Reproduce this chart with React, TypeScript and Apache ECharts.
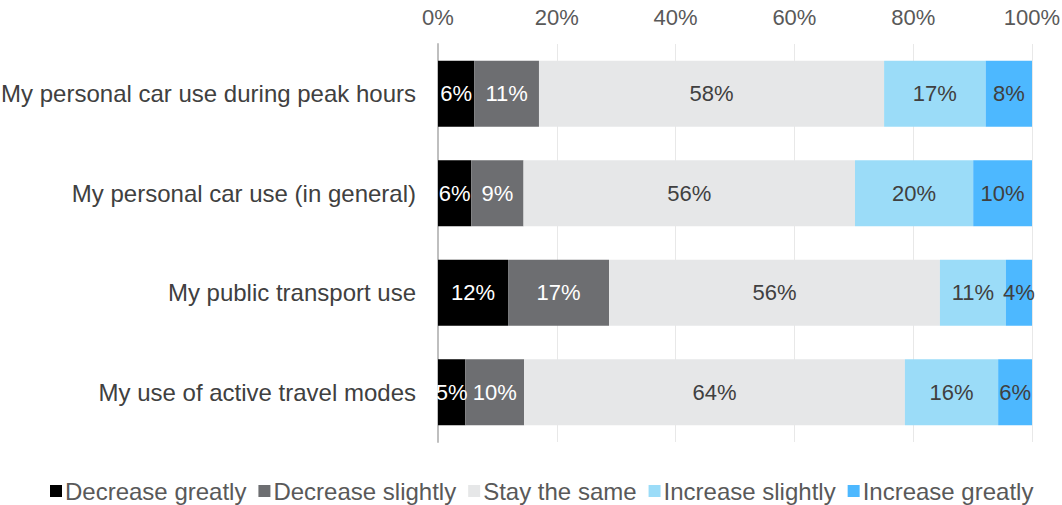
import React, { useEffect, useRef } from "react";
import * as echarts from "echarts";

const categories = [
  "My personal car use during peak hours",
  "My personal car use (in general)",
  "My public transport use",
  "My use of active travel modes",
];
const seriesNames = [
  "Decrease greatly",
  "Decrease slightly",
  "Stay the same",
  "Increase slightly",
  "Increase greatly",
];
const decreaseGreatly = [6.1, 5.6, 11.8, 4.6];
const decreaseSlightly = [10.9, 8.8, 17.0, 9.9];
const stayTheSame = [58.1, 55.8, 55.7, 64.1];
const increaseSlightly = [17.1, 19.9, 11.1, 15.7];
const increaseGreatly = [7.8, 9.9, 4.4, 5.7];
const xTicks = [0, 20, 40, 60, 80, 100];

const colors = ["#000000", "#6d6e71", "#e6e7e8", "#9bdcf8", "#4db8ff"];
const labelColors = ["#ffffff", "#ffffff", "#404040", "#404040", "#404040"];

export default function App() {
  const ref = useRef<HTMLDivElement>(null);
  useEffect(() => {
    if (!ref.current) return;
    const chart = echarts.init(ref.current, null, { renderer: "svg" });
    const data = [decreaseGreatly, decreaseSlightly, stayTheSame, increaseSlightly, increaseGreatly];
    const font = "'Liberation Sans', Arial, sans-serif";
    chart.setOption({
      animation: false,
      textStyle: { fontFamily: font },
      grid: { left: 438, right: 30, top: 44, height: 398, outerBoundsMode: "none" },
      legend: {
        top: 474,
        left: 45,
        icon: "rect",
        itemWidth: 12,
        itemHeight: 12,
        itemGap: 12,
        textStyle: { fontSize: 24, color: "#595959", fontFamily: font, padding: [0, 0, 0, -2] },
        data: seriesNames,
      },
      xAxis: {
        type: "value",
        position: "top",
        min: xTicks[0],
        max: xTicks[xTicks.length - 1],
        interval: 20,
        axisLine: { show: false },
        axisTick: { show: false },
        axisLabel: { formatter: "{value}%", fontSize: 22, color: "#595959", margin: 16, fontFamily: font },
        splitLine: { lineStyle: { color: "#e8e8e8", width: 1 } },
      },
      yAxis: {
        type: "category",
        inverse: true,
        data: categories,
        axisLine: { show: true, lineStyle: { color: "#bfbfbf", width: 2 } },
        axisTick: { show: false },
        axisLabel: { fontSize: 24, color: "#404040", margin: 22, fontFamily: font },
      },
      series: seriesNames.map((name, i) => ({
        name,
        type: "bar",
        stack: "total",
        barWidth: 66,
        data: data[i],
        itemStyle: { color: colors[i] },
        label: {
          show: true,
          position: "inside",
          color: labelColors[i],
          fontSize: 22,
          fontFamily: font,
          formatter: (p: any) => Math.round(p.value) + "%",
        },
      })),
    });
    return () => chart.dispose();
  }, []);
  return (
    <div
      ref={ref}
      style={{ position: "absolute", left: 0, top: 0, width: 1062, height: 505, overflow: "hidden" }}
    />
  );
}
